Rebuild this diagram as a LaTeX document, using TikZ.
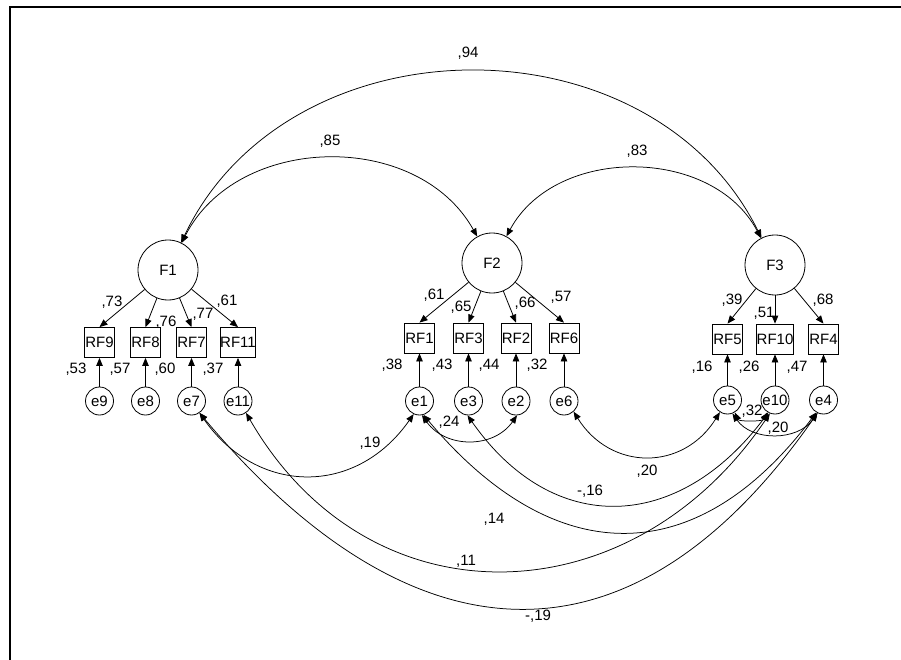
\documentclass[tikz,border=0pt]{standalone}
\usepackage{fontspec}
\setmainfont{Liberation Sans}
\usetikzlibrary{arrows.meta}
\begin{document}
\begin{tikzpicture}[x=1pt,y=-1pt,
  every node/.style={font=\fontsize{15}{17}\selectfont, inner sep=0pt},
  lat/.style={draw, circle, minimum size=60pt, line width=0.8pt},
  obs/.style={draw, rectangle, minimum width=30pt, minimum height=30pt, line width=0.8pt},
  err/.style={draw, circle, minimum size=28pt, line width=0.8pt},
  reg/.style={-{Triangle[length=8pt,width=6.5pt]}, line width=0.8pt},
  cov/.style={{Triangle[length=8pt,width=6.5pt]}-{Triangle[length=8pt,width=6.5pt]}, line width=0.75pt},
  frame/.style={line width=2pt}
]
\useasboundingbox (0,0) rectangle (901,660);
\coordinate (fa) at (10,660);
\coordinate (fb) at (10,6.7);
\coordinate (fc) at (901,6.7);
\draw[frame] (fa) -- (fb) -- (fc);

% latent factors
\node[lat] (F1) at (168,270) {F1};
\node[lat] (F2) at (492,263) {F2};
\node[lat] (F3) at (775,265) {F3};

% observed
\node[obs] (RF9)  at (99.5,342.5) {RF9};
\node[obs] (RF8)  at (145.5,342.5) {RF8};
\node[obs] (RF7)  at (191.5,342.5) {RF7};
\node[obs] (RF11) at (238,342.5) {RF11};
\node[obs] (RF1)  at (419.5,338) {RF1};
\node[obs] (RF3)  at (468.5,338) {RF3};
\node[obs] (RF2)  at (516,338) {RF2};
\node[obs] (RF6)  at (564,338) {RF6};
\node[obs] (RF5)  at (727.5,339) {RF5};
\node[obs] (RF10) at (775,339) {RF10};
\node[obs] (RF4)  at (823.5,339) {RF4};

% errors
\node[err] (e9)  at (99.5,401) {e9};
\node[err] (e8)  at (145.5,401) {e8};
\node[err] (e7)  at (191.5,401) {e7};
\node[err] (e11) at (238,401) {e11};
\node[err] (e1)  at (419.5,401) {e1};
\node[err] (e3)  at (468.5,401) {e3};
\node[err] (e2)  at (516,401) {e2};
\node[err] (e6)  at (564,401) {e6};
\node[err] (e5)  at (727.5,400) {e5};
\node[err] (e10) at (775,400) {e10};
\node[err] (e4)  at (823.5,400) {e4};

% loadings
\foreach \f/\b in {F1/RF9,F1/RF8,F1/RF7,F1/RF11,F2/RF1,F2/RF3,F2/RF2,F2/RF6,F3/RF5,F3/RF10,F3/RF4}
  \draw[reg] (\f) -- (\b.north);
\foreach \e/\b in {e9/RF9,e8/RF8,e7/RF7,e11/RF11,e1/RF1,e3/RF3,e2/RF2,e6/RF6,e5/RF5,e10/RF10,e4/RF4}
  \draw[reg] (\e) -- (\b);

% factor covariances
\draw[cov] (F1) to[bend left=64, looseness=1.1] (F3);
\draw[cov] (F1) to[bend left=62, looseness=1.06] (F2);
\draw[cov] (F2) to[bend left=62, looseness=1.04] (F3);

% error covariances
\draw[cov] (e7.-56) to[out=-55, in=-125, looseness=1.2] (e1.-114);
\draw[cov] (e1.-80) to[out=-55, in=-125, looseness=1.1] (e2.-86);
\draw[cov] (e3.-94) to[out=-55, in=-127, looseness=1.27] (e10.-118);
\draw[cov] (e1.-74) to[out=-50, in=-127, looseness=1.31] (e4.-120);
\draw[cov] (e11.-56) to[out=-60, in=-124, looseness=1.21] (e10.-111);
\draw[cov] (e7.-56) to[out=-50, in=-125, looseness=1.36] (e4.-115);
\draw[cov] (e6.-48) to[out=-58, in=-122, looseness=1.22] (e5.-122);
\draw[cov] (e5.-60) to[out=-65, in=-115, looseness=0.8] (e10.-122);
\draw[cov] (e5.-70) to[out=-55, in=-125, looseness=1.03] (e4.-115);

% labels
\node (l94) at (468,53) {,94};
\node (l85) at (330,141) {,85};
\node (l83) at (637,151) {,83};

\node (l73) at (112,302) {,73};
\node (l76) at (166,322) {,76};
\node (l77) at (203,314) {,77};
\node (l61a) at (227,301) {,61};
\node (l53) at (76,369) {,53};
\node (l57a) at (120,369) {,57};
\node (l60) at (165,369) {,60};
\node (l37) at (213,369) {,37};

\node (l61b) at (434,295) {,61};
\node (l65) at (461,307) {,65};
\node (l66) at (525,303) {,66};
\node (l57b) at (561,297) {,57};
\node (l38) at (392,365) {,38};
\node (l43) at (442,365) {,43};
\node (l44) at (489,365) {,44};
\node (l32a) at (537,365) {,32};

\node (l39) at (732,300) {,39};
\node (l51) at (764,313) {,51};
\node (l68) at (823,300) {,68};
\node (l16) at (702,367) {,16};
\node (l26) at (749,367) {,26};
\node (l47) at (797,367) {,47};

\node (l19) at (370,443) {,19};
\node (l24) at (449,422) {,24};
\node (lm16) at (590,491) {-,16};
\node (l14) at (494,519) {,14};
\node (l11) at (466,561) {,11};
\node (lm19) at (538,616) {-,19};
\node (l20a) at (647,471) {,20};
\node (l32b) at (752,411) {,32};
\node (l20b) at (778,428) {,20};
\end{tikzpicture}
\end{document}
